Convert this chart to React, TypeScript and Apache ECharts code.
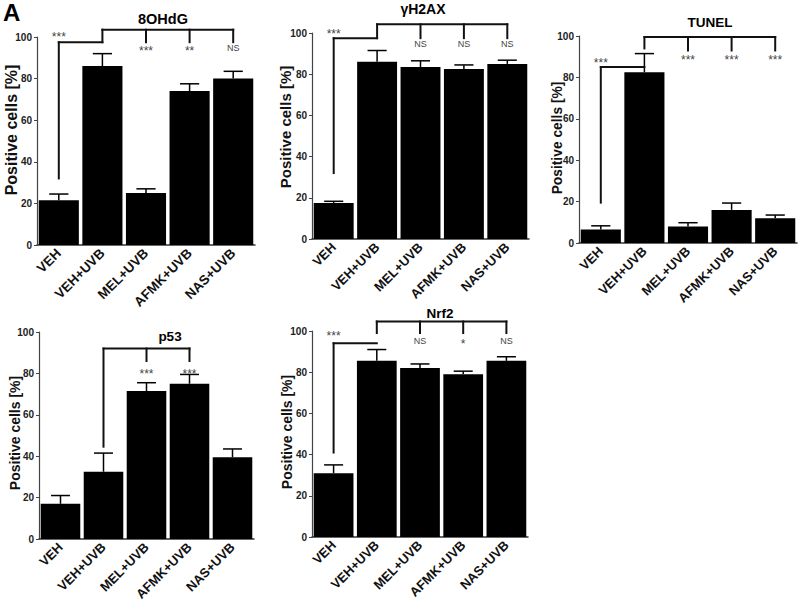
import React, { useEffect, useRef } from "react";
import * as echarts from "echarts";

const categories = ["VEH", "VEH+UVB", "MEL+UVB", "AFMK+UVB", "NAS+UVB"];
const yTicks = [0, 20, 40, 60, 80, 100];

const titles = ["8OHdG", "γH2AX", "TUNEL", "p53", "Nrf2"];

const ohdgMean = [21.5, 86, 25, 74, 80];
const ohdgErr = [3, 6, 2, 3.5, 3.5];
const h2axMean = [17.5, 86, 83.5, 82.5, 85];
const h2axErr = [0.8, 5.5, 3, 2, 1.8];
const tunelMean = [6.5, 82.5, 8, 16, 12];
const tunelErr = [1.8, 9, 1.8, 3.3, 1.5];
const p53Mean = [17, 32.5, 71.5, 75, 39.5];
const p53Err = [4, 9, 4, 4.5, 4];
const nrf2Mean = [31, 85.5, 82, 79, 85.5];
const nrf2Err = [4, 5.5, 2, 1.5, 2];

// brackets: [x1, y1, x2, y2] in (category index, %) space
const ohdgBrackets = [[0, 32, 0, 97.5], [0, 97.5, 0.83, 97.5], [1, 97.5, 1, 103.5], [1, 103.5, 4, 103.5], [2, 103.5, 2, 97.5], [3, 103.5, 3, 97.5], [4, 103.5, 4, 97.5]];
const ohdgMarks = [[0.25, 101, "***"], [2, 94, "***"], [3, 94, "**"], [4, 94.5, "NS"]];
const h2axBrackets = [[0, 32, 0, 97.5], [0, 97.5, 0.8, 97.5], [1, 97.5, 1, 104.2], [1, 104.2, 4, 104.2], [2, 104.2, 2, 97.5], [3, 104.2, 3, 97.5], [4, 104.2, 4, 97.5]];
const h2axMarks = [[0.3, 100.5, "***"], [2, 94.5, "NS"], [3, 94.5, "NS"], [4, 94.5, "NS"]];
const tunelBrackets = [[0, 19.5, 0, 85], [0, 85, 0.83, 85], [1, 94, 1, 99.5], [1, 99.5, 4, 99.5], [2, 99.5, 2, 93], [3, 99.5, 3, 93], [4, 99.5, 4, 93]];
const tunelMarks = [[0.44, 88, "***"], [2, 89.5, "***"], [3, 89.5, "***"], [4, 89.5, "***"]];
const p53Brackets = [[1, 44.6, 1, 92], [1, 92, 3, 92], [2, 92, 2, 86], [3, 92, 3, 86]];
const p53Marks = [[2, 80.5, "***"], [3, 80.5, "***"]];
const nrf2Brackets = [[0, 41, 0, 94], [0, 94, 0.73, 94], [1, 99, 1, 104.6], [1, 104.6, 4, 104.6], [2, 104.6, 2, 99], [3, 104.6, 3, 99], [4, 104.6, 4, 99]];
const nrf2Marks = [[0.33, 98.5, "***"], [2, 95, "NS"], [3, 94.5, "*"], [4, 95, "NS"]];

const panels = [
  { mean: ohdgMean, err: ohdgErr, br: ohdgBrackets, mk: ohdgMarks },
  { mean: h2axMean, err: h2axErr, br: h2axBrackets, mk: h2axMarks },
  { mean: tunelMean, err: tunelErr, br: tunelBrackets, mk: tunelMarks },
  { mean: p53Mean, err: p53Err, br: p53Brackets, mk: p53Marks },
  { mean: nrf2Mean, err: nrf2Err, br: nrf2Brackets, mk: nrf2Marks },
];

// layout
const grids = [
  { left: 37, top: 37, width: 218, height: 208 },
  { left: 312, top: 33, width: 217, height: 206 },
  { left: 579, top: 36, width: 218, height: 207 },
  { left: 39, top: 332, width: 215, height: 207 },
  { left: 312, top: 331, width: 216, height: 206 },
];
const titlePos = [
  { x: 163, y: 19, size: 14.5 },
  { x: 423, y: 9, size: 14 },
  { x: 710, y: 22, size: 13.5 },
  { x: 170, y: 336, size: 13.5 },
  { x: 440, y: 313, size: 13.5 },
];
const yNamePos = [
  { x: 11, y: 130, size: 16 },
  { x: 285, y: 127, size: 15 },
  { x: 557, y: 138, size: 13.8 },
  { x: 15, y: 433, size: 14 },
  { x: 287, y: 432, size: 14 },
];
const xLabelSize = [13.5, 13, 13, 13, 13];

const FONT = "'Liberation Sans', Arial, sans-serif";

export default function App() {
  const ref = useRef<HTMLDivElement>(null);
  useEffect(() => {
    if (!ref.current) return;
    const chart = echarts.init(ref.current, null, { renderer: "svg" });
    const grid: any[] = [];
    const xAxis: any[] = [];
    const yAxis: any[] = [];
    const series: any[] = [];
    const graphic: any[] = [];

    graphic.push({
      type: "text", left: 3, top: 0,
      style: { text: "A", font: `bold 24px ${FONT}`, fill: "#000" },
    });

    panels.forEach((p, i) => {
      grid.push({ ...grids[i], containLabel: false });
      xAxis.push({
        type: "category", gridIndex: i, data: categories,
        axisLine: { lineStyle: { color: "#333", width: 1.5 } },
        axisTick: { alignWithLabel: true, length: 4, lineStyle: { color: "#333", width: 1.2 } },
        axisLabel: { rotate: 45, fontFamily: FONT, fontWeight: "bold", fontSize: xLabelSize[i], color: "#111", margin: 6, interval: 0 },
      });
      yAxis.push({
        type: "value", gridIndex: i, min: 0, max: 100, interval: 20,
        splitLine: { show: false },
        axisLine: { show: true, lineStyle: { color: "#444", width: 1.2 } },
        axisTick: { show: true, length: 3, lineStyle: { color: "#444" } },
        axisLabel: { fontFamily: FONT, fontWeight: "bold", fontSize: 10, color: "#222", margin: 5,
          formatter: (v: number) => (yTicks.includes(v) ? String(v) : "") },
      });
      series.push({
        type: "bar", xAxisIndex: i, yAxisIndex: i, data: p.mean,
        barCategoryGap: "8%", itemStyle: { color: "#000" }, z: 2,
      });
      series.push({
        type: "custom", xAxisIndex: i, yAxisIndex: i, z: 1,
        data: p.mean.map((m, k) => [k, m, p.err[k]]),
        encode: { x: 0, y: 1 },
        renderItem: (params: any, api: any) => {
          const x = api.value(0), m = api.value(1), e = api.value(2);
          const base = api.coord([x, m]);
          const top = api.coord([x, m + e]);
          const half = api.size([1, 0])[0] * 0.22;
          const st = { stroke: "#000", lineWidth: 1.5 };
          return {
            type: "group",
            children: [
              { type: "line", shape: { x1: base[0], y1: base[1], x2: top[0], y2: top[1] }, style: st },
              { type: "line", shape: { x1: top[0] - half, y1: top[1], x2: top[0] + half, y2: top[1] }, style: st },
            ],
          };
        },
      });
      series.push({
        type: "custom", xAxisIndex: i, yAxisIndex: i, z: 3, clip: false,
        data: p.br,
        encode: { x: [0, 2], y: [1, 3] },
        renderItem: (params: any, api: any) => {
          const a = api.coord([api.value(0), api.value(1)]);
          const b = api.coord([api.value(2), api.value(3)]);
          return { type: "line", shape: { x1: a[0], y1: a[1], x2: b[0], y2: b[1] }, style: { stroke: "#111", lineWidth: 2, lineCap: "square" } };
        },
      });
      series.push({
        type: "custom", xAxisIndex: i, yAxisIndex: i, z: 3, clip: false,
        data: p.mk.map((d) => [d[0], d[1]]),
        encode: { x: 0, y: 1 },
        renderItem: (params: any, api: any) => {
          const c = api.coord([api.value(0), api.value(1)]);
          const txt = p.mk[params.dataIndex][2] as string;
          const isStar = txt.indexOf("*") >= 0;
          return {
            type: "text", x: c[0], y: c[1] + (isStar ? 2 : 0),
            style: { text: txt, fill: "#444", font: `${isStar ? 12 : 9}px ${FONT}`, align: "center", verticalAlign: "middle" },
          };
        },
      });
      graphic.push({
        type: "text", x: titlePos[i].x, y: titlePos[i].y,
        style: { text: titles[i], font: `bold ${titlePos[i].size}px ${FONT}`, fill: "#000", align: "center", verticalAlign: "middle" },
      });
      graphic.push({
        type: "text", x: yNamePos[i].x, y: yNamePos[i].y, rotation: Math.PI / 2,
        style: { text: "Positive cells [%]", font: `bold ${yNamePos[i].size}px ${FONT}`, fill: "#111", align: "center", verticalAlign: "middle" },
      });
    });

    chart.setOption({ animation: false, backgroundColor: "#fff", grid, xAxis, yAxis, series, graphic });
    return () => chart.dispose();
  }, []);
  return <div ref={ref} style={{ position: "fixed", left: 0, top: 0, width: 800, height: 609 }} />;
}
